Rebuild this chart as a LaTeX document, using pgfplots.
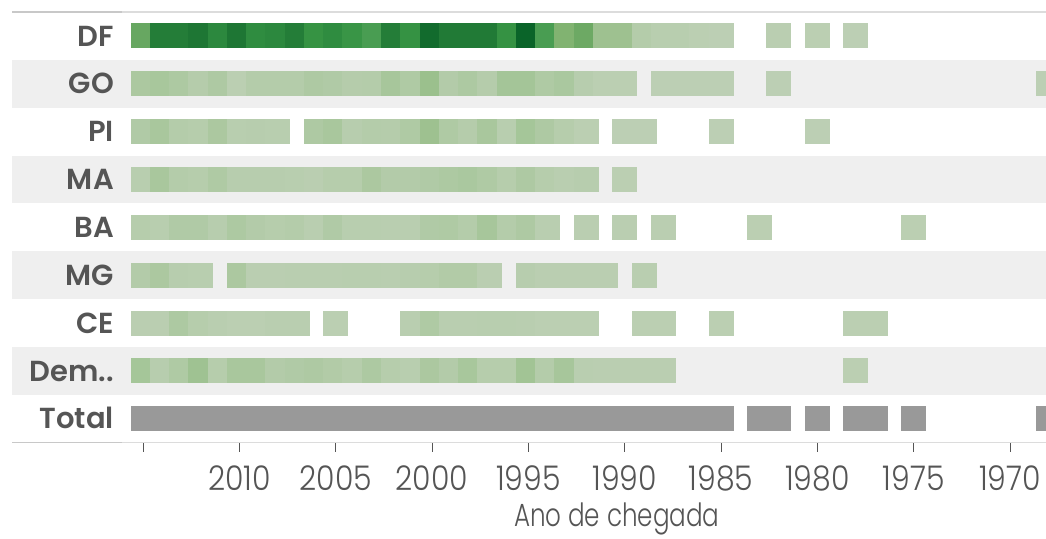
\documentclass[border=0pt]{standalone}
\usepackage{pgfplots}
\pgfplotsset{compat=1.18}
\usepackage{fontspec}
\setmainfont{Poppins}
\newfontfamily\labfont{Poppins SemiBold}
\newfontfamily\tickfont{Poppins Light}[FakeStretch=0.88]
\newfontfamily\titlefont{Poppins Light}[FakeStretch=0.77]
\definecolor{bandgray}{HTML}{EFEFEF}
\definecolor{labgray}{HTML}{555555}
\definecolor{totgray}{HTML}{999999}
\definecolor{linegray}{HTML}{DCDCDC}
\definecolor{linedark}{HTML}{C8C8C8}
\pgfplotsset{
  cellstyle/.style={scatter, only marks, mark=square*, mark size=12pt, line width=0pt,
    point meta=explicit, scatter/use mapped color={draw=mapped color, fill=mapped color}},
}
\begin{document}
\begin{tikzpicture}
\begin{axis}[
  set layers,
  at={(12pt,-442.7pt)}, anchor=south west,
  scale only axis, width=1034pt, height=430.7pt,
  x dir=reverse, xmin=1968.14, xmax=2021.80,
  y dir=reverse, ymin=0.5, ymax=9.5,
  clip=false,
  axis line style={draw=none},
  xtick={2015,2010,...,1970},
  xticklabels={{},2010,2005,2000,1995,1990,1985,1980,1975,1970},
  tick align=outside, xtick pos=bottom,
  major tick length=9pt,
  xtick style={draw=labgray, line width=1pt},
  ytick={1,...,9},
  yticklabels={DF,GO,PI,MA,BA,MG,CE,Dem..,Total},
  ytick style={draw=none},
  yticklabel style={anchor=base east, inner sep=0pt, xshift=111pt, yshift=-10.2pt,
    font=\labfont\fontsize{29}{32}\selectfont, text=labgray},
  xticklabel style={anchor=base, inner sep=0pt, yshift=-39pt,
    font=\tickfont\fontsize{34}{38}\selectfont, text=labgray},
  xlabel={Ano de chegada},
  xlabel style={at={(axis description cs:0.585,-0.1957)}, anchor=base, inner sep=0pt,
    font=\titlefont\fontsize{32}{36}\selectfont, text=labgray},
  colormap={tg}{rgb255(0cm)=(190,208,182); rgb255(1cm)=(180,204,170); rgb255(2cm)=(168,199,156);
    rgb255(3cm)=(155,192,141); rgb255(4cm)=(134,181,116); rgb255(5cm)=(109,169,100);
    rgb255(6cm)=(78,159,85); rgb255(7cm)=(55,148,68); rgb255(8cm)=(44,136,62);
    rgb255(9cm)=(30,118,52); rgb255(10cm)=(10,100,41)},
  point meta min=0, point meta max=1,
]
% row bands
\begin{pgfonlayer}{axis background}
\fill[bandgray] (axis cs:2021.80,1.5) rectangle (axis cs:1968.14,2.5);
\fill[bandgray] (axis cs:2021.80,3.5) rectangle (axis cs:1968.14,4.5);
\fill[bandgray] (axis cs:2021.80,5.5) rectangle (axis cs:1968.14,6.5);
\fill[bandgray] (axis cs:2021.80,7.5) rectangle (axis cs:1968.14,8.5);
% top and bottom rules
\draw[linegray, line width=1.5pt] (axis cs:2021.80,0.5) -- (axis cs:1968.14,0.5);
\draw[linegray, line width=1.5pt] (axis cs:2021.80,9.5) -- (axis cs:1968.14,9.5);
\draw[linedark, line width=1.5pt] (axis cs:2021.80,0.5) -- (axis cs:2016.09,0.5);
\draw[linedark, line width=1.5pt] (axis cs:2021.80,9.5) -- (axis cs:2016.09,9.5);
\end{pgfonlayer}
% DF
\addplot[cellstyle] coordinates {
(2015,1)[0.52] (2014,1)[0.86] (2013,1)[0.86] (2012,1)[0.9] (2011,1)[0.8] (2010,1)[0.9]
(2009,1)[0.77] (2008,1)[0.8] (2007,1)[0.86] (2006,1)[0.71] (2005,1)[0.77] (2004,1)[0.69]
(2003,1)[0.62] (2002,1)[0.86] (2001,1)[0.72] (2000,1)[0.96] (1999,1)[0.88] (1998,1)[0.88]
(1997,1)[0.88] (1996,1)[0.72] (1995,1)[1.0] (1994,1)[0.62] (1993,1)[0.42] (1992,1)[0.5]
(1991,1)[0.28] (1990,1)[0.28] (1989,1)[0.1] (1988,1)[0.06] (1987,1)[0.06] (1986,1)[0.03]
(1985,1)[0.02] (1982,1)[0.04] (1980,1)[0.03] (1978,1)[0.02]};
% GO
\addplot[cellstyle] coordinates {
(2015,2)[0.17] (2014,2)[0.2] (2013,2)[0.16] (2012,2)[0.09] (2011,2)[0.15] (2010,2)[0.03]
(2009,2)[0.1] (2008,2)[0.1] (2007,2)[0.1] (2006,2)[0.15] (2005,2)[0.13] (2004,2)[0.09]
(2003,2)[0.1] (2002,2)[0.21] (2001,2)[0.14] (2000,2)[0.3] (1999,2)[0.11] (1998,2)[0.16]
(1997,2)[0.09] (1996,2)[0.23] (1995,2)[0.23] (1994,2)[0.14] (1993,2)[0.18] (1992,2)[0.07]
(1991,2)[0.03] (1990,2)[0.03] (1988,2)[0.02] (1987,2)[0.02] (1986,2)[0.02] (1985,2)[0.02]
(1982,2)[0.02] (1968,2)[0.02]};
% PI
\addplot[cellstyle] coordinates {
(2015,3)[0.13] (2014,3)[0.19] (2013,3)[0.1] (2012,3)[0.08] (2011,3)[0.17] (2010,3)[0.06]
(2009,3)[0.07] (2008,3)[0.06] (2006,3)[0.15] (2005,3)[0.19] (2004,3)[0.07] (2003,3)[0.1]
(2002,3)[0.09] (2001,3)[0.14] (2000,3)[0.28] (1999,3)[0.14] (1998,3)[0.09] (1997,3)[0.19]
(1996,3)[0.06] (1995,3)[0.22] (1994,3)[0.15] (1993,3)[0.08] (1992,3)[0.03] (1990,3)[0.02]
(1989,3)[0.02] (1985,3)[0.02] (1980,3)[0.02]};
% MA
\addplot[cellstyle] coordinates {
(2015,4)[0.06] (2014,4)[0.19] (2013,4)[0.1] (2012,4)[0.08] (2011,4)[0.14] (2010,4)[0.07]
(2009,4)[0.07] (2008,4)[0.07] (2007,4)[0.06] (2006,4)[0.04] (2005,4)[0.08] (2004,4)[0.08]
(2003,4)[0.17] (2002,4)[0.11] (2001,4)[0.11] (2000,4)[0.13] (1999,4)[0.16] (1998,4)[0.18]
(1997,4)[0.14] (1996,4)[0.08] (1995,4)[0.15] (1994,4)[0.08] (1993,4)[0.05] (1992,4)[0.07]
(1990,4)[0.03]};
% BA
\addplot[cellstyle] coordinates {
(2015,5)[0.08] (2014,5)[0.06] (2013,5)[0.13] (2012,5)[0.13] (2011,5)[0.07] (2010,5)[0.16]
(2009,5)[0.11] (2008,5)[0.08] (2007,5)[0.1] (2006,5)[0.05] (2005,5)[0.13] (2004,5)[0.06]
(2003,5)[0.06] (2002,5)[0.05] (2001,5)[0.05] (2000,5)[0.13] (1999,5)[0.14] (1998,5)[0.1]
(1997,5)[0.21] (1996,5)[0.1] (1995,5)[0.15] (1994,5)[0.05] (1992,5)[0.04] (1990,5)[0.04]
(1988,5)[0.04] (1983,5)[0.03] (1975,5)[0.03]};
% MG
\addplot[cellstyle] coordinates {
(2015,6)[0.11] (2014,6)[0.17] (2013,6)[0.07] (2012,6)[0.06] (2010,6)[0.17] (2009,6)[0.04]
(2008,6)[0.04] (2007,6)[0.05] (2006,6)[0.05] (2005,6)[0.05] (2004,6)[0.06] (2003,6)[0.06]
(2002,6)[0.05] (2001,6)[0.07] (2000,6)[0.08] (1999,6)[0.12] (1998,6)[0.12] (1997,6)[0.04]
(1995,6)[0.07] (1994,6)[0.04] (1993,6)[0.04] (1992,6)[0.04] (1991,6)[0.04] (1989,6)[0.05]};
% CE
\addplot[cellstyle] coordinates {
(2015,7)[0.04] (2014,7)[0.04] (2013,7)[0.16] (2012,7)[0.08] (2011,7)[0.05] (2010,7)[0.03]
(2009,7)[0.03] (2008,7)[0.05] (2007,7)[0.05] (2005,7)[0.03] (2001,7)[0.05] (2000,7)[0.14]
(1999,7)[0.05] (1998,7)[0.05] (1997,7)[0.06] (1996,7)[0.06] (1995,7)[0.05] (1994,7)[0.03]
(1993,7)[0.03] (1992,7)[0.03] (1989,7)[0.03] (1988,7)[0.03] (1985,7)[0.03] (1978,7)[0.03]
(1977,7)[0.03]};
% Dem..
\addplot[cellstyle] coordinates {
(2015,8)[0.22] (2014,8)[0.07] (2013,8)[0.14] (2012,8)[0.27] (2011,8)[0.08] (2010,8)[0.19]
(2009,8)[0.19] (2008,8)[0.11] (2007,8)[0.13] (2006,8)[0.15] (2005,8)[0.12] (2004,8)[0.08]
(2003,8)[0.16] (2002,8)[0.08] (2001,8)[0.06] (2000,8)[0.17] (1999,8)[0.11] (1998,8)[0.2]
(1997,8)[0.08] (1996,8)[0.08] (1995,8)[0.25] (1994,8)[0.1] (1993,8)[0.21] (1992,8)[0.05]
(1991,8)[0.04] (1990,8)[0.04] (1989,8)[0.04] (1988,8)[0.04] (1978,8)[0.03]};
% Total
\addplot[only marks, mark=square*, mark size=12pt, line width=0pt, color=totgray] coordinates {
(2015,9) (2014,9) (2013,9) (2012,9) (2011,9) (2010,9) (2009,9) (2008,9) (2007,9) (2006,9)
(2005,9) (2004,9) (2003,9) (2002,9) (2001,9) (2000,9) (1999,9) (1998,9) (1997,9) (1996,9)
(1995,9) (1994,9) (1993,9) (1992,9) (1991,9) (1990,9) (1989,9) (1988,9) (1987,9) (1986,9)
(1985,9) (1983,9) (1982,9) (1980,9) (1978,9) (1977,9) (1975,9) (1968,9)};
\end{axis}
\pgfresetboundingbox
\useasboundingbox (0pt,-538pt) rectangle (1046pt,0pt);
\end{tikzpicture}
\end{document}
